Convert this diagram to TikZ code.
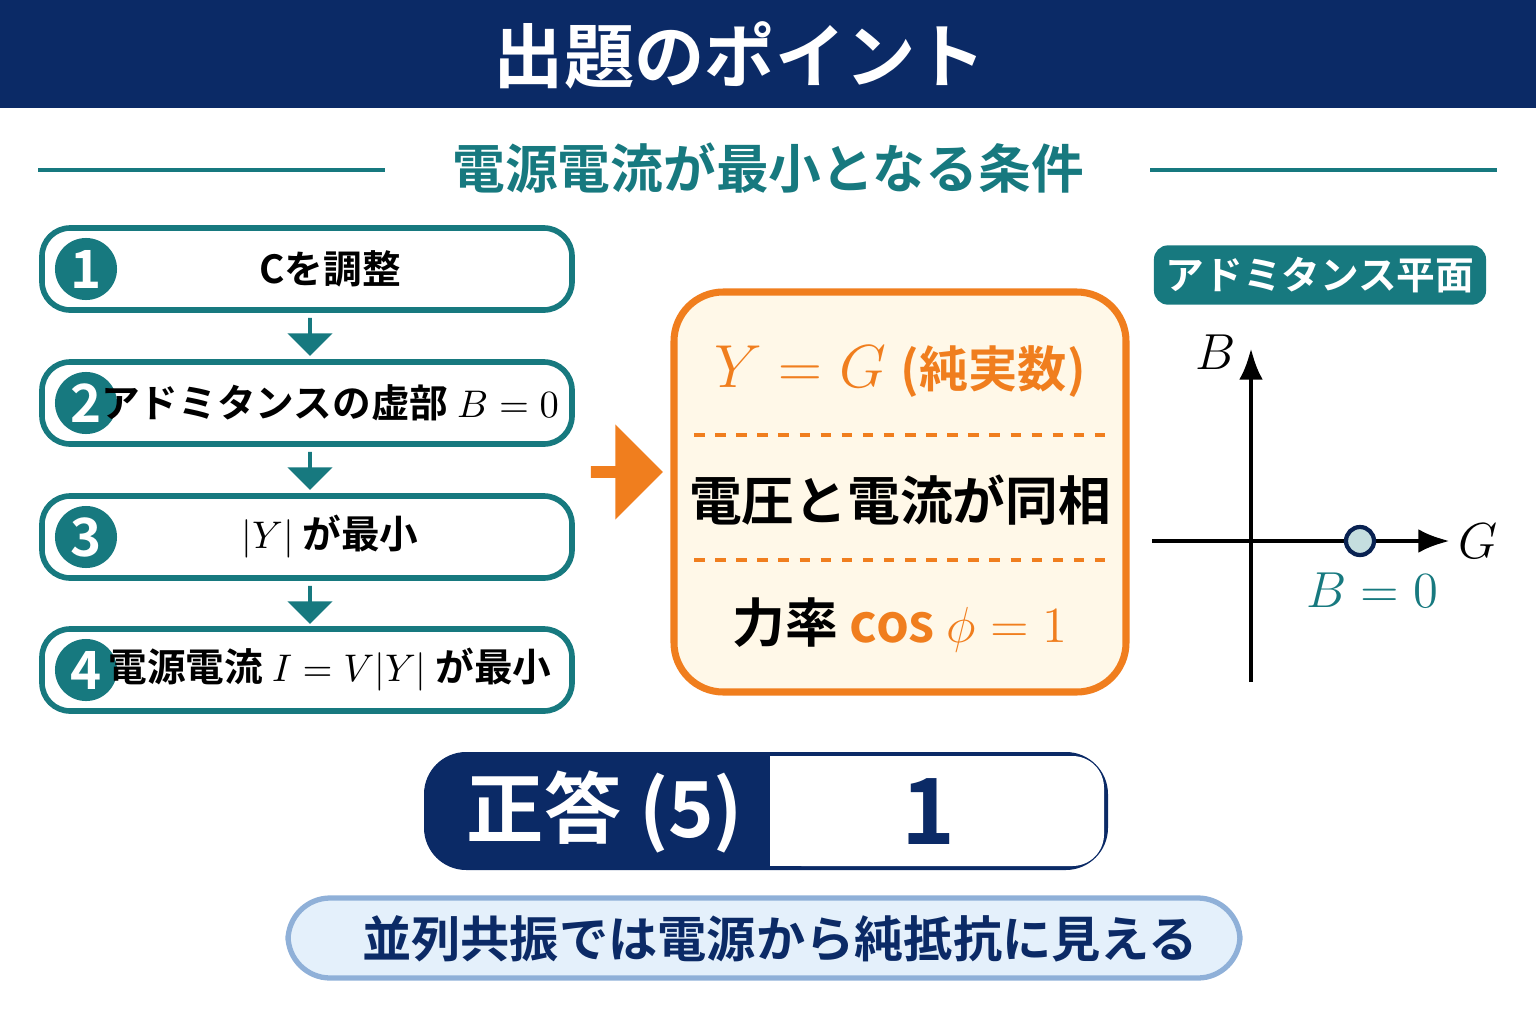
\documentclass[tikz,border=0pt]{standalone}
\usepackage{fontspec}
\setmainfont{Noto Sans CJK JP}[BoldFont={Noto Sans CJK JP Bold}]
\usepackage{amsmath}
\usetikzlibrary{positioning, arrows.meta, shapes.arrows}
\definecolor{navy}{HTML}{0B2A66}
\definecolor{teal2}{HTML}{17797F}
\definecolor{orng}{HTML}{F07E1E}
\definecolor{cream}{HTML}{FFF8E8}
\definecolor{lblue}{HTML}{E4F0FB}
\definecolor{bblue}{HTML}{8FB0D8}
\tikzset{
  stepbox/.style={draw=teal2, line width=1.6pt, rounded corners=8pt, fill=white},
  num/.style={circle, fill=teal2, text=white, minimum size=0.62cm, inner sep=0pt, font=\bfseries\fontsize{15}{15}\selectfont},
  steptext/.style={font=\bfseries\fontsize{11}{13}\selectfont},
  down/.style={single arrow, fill=teal2, draw=none, shape border rotate=270, minimum width=0.45cm, single arrow head extend=0.08cm, minimum height=0.38cm, inner sep=0pt},
}
\begin{document}
\begin{tikzpicture}[x=0.01cm, y=-0.01cm]
\useasboundingbox (0,0) rectangle (1536,1024);
% --- Header ---
\fill[navy] (0,0) rectangle (1536,108);
\node[text=white, font=\bfseries\fontsize{20}{20}\selectfont] (title) at (740,55) {出題のポイント};
\node[text=teal2, font=\bfseries\fontsize{15}{15}\selectfont] (sub) at (768,168) {電源電流が最小となる条件};
\draw[teal2, line width=1.2pt] (38,170) -- (385,170);
\draw[teal2, line width=1.2pt] (1150,170) -- (1497,170);
% --- Steps ---
\foreach \i/\y/\t in {1/269/{Cを調整}, 2/403/{アドミタンスの虚部 $B=0$}, 3/537/{$|Y|$ が最小}, 4/670/{電源電流 $I=V|Y|$ が最小}}{
  \draw[stepbox] (42,\y-41) rectangle (572,\y+41);
  \node[num] (n\i) at (86,\y) {\i};
  \node[steptext] (s\i) at (330,\y) {\t};
}
\foreach \y in {336,470,604}
  \node[down] at (310,\y) {};
\node[single arrow, fill=orng, minimum width=0.95cm, single arrow head extend=0.05cm, minimum height=0.72cm, inner sep=0pt] (big) at (624,472) {};
% --- Result box ---
\draw[orng, fill=cream, line width=2pt, rounded corners=14pt] (674,292) rectangle (1126,692);
\node[text=orng, font=\bfseries\fontsize{18}{18}\selectfont] (yg) at (900,372) {$Y=G$ \fontsize{14}{14}\selectfont(純実数)};
\draw[orng, dashed, line width=1pt] (694,435) -- (1106,435);
\node[font=\bfseries\fontsize{15}{15}\selectfont] (ph) at (900,500) {電圧と電流が同相};
\draw[orng, dashed, line width=1pt] (694,560) -- (1106,560);
\node[font=\bfseries\fontsize{15}{15}\selectfont] (pf) at (900,625) {力率 \textcolor{orng}{cos $\phi=1$}};
% --- Admittance plane ---
\node[fill=teal2, text=white, rounded corners=4pt, minimum width=3.27cm, minimum height=0.54cm, font=\bfseries\fontsize{11}{11}\selectfont] (plane) at (1320,275) {アドミタンス平面};
\coordinate (o) at (1251,541);
\draw[line width=1.4pt, -{Latex[length=9pt]}] (1251,682) -- (1251,348) coordinate (btop);
\draw[line width=1.4pt, -{Latex[length=9pt]}] (1152,541) -- (1450,541) coordinate (gend);
\node[font=\fontsize{15}{15}\selectfont] (bl) at (1216,352) {$B$};
\node[font=\fontsize{15}{15}\selectfont] (gl) at (1478,541) {$G$};
\node[circle, draw=navy!80!black, fill=teal2!25, line width=1.2pt, minimum size=0.28cm, inner sep=0pt] (pt) at (1360,541) {};
\node[text=teal2, font=\fontsize{14}{14}\selectfont] (b0) at (1372,590) {$B=0$};
% --- Answer ---
\fill[navy, rounded corners=12pt] (424,752) rectangle (1108,870);
\fill[white, rounded corners=9pt] (770,756) rectangle (1104,866);
\fill[white] (770,756) rectangle (800,866);
\node[text=white, font=\bfseries\fontsize{22}{22}\selectfont] (ans) at (605,812) {正答 (5)};
\node[text=navy, font=\bfseries\fontsize{26}{26}\selectfont] (one) at (928,812) {1};
% --- Note ---
\draw[bblue, fill=lblue, line width=1.5pt, rounded corners=12pt] (288,898) rectangle (1240,978);
\node[text=navy, font=\bfseries\fontsize{14}{14}\selectfont] (note) at (780,939) {並列共振では電源から純抵抗に見える};
\end{tikzpicture}
\end{document}
